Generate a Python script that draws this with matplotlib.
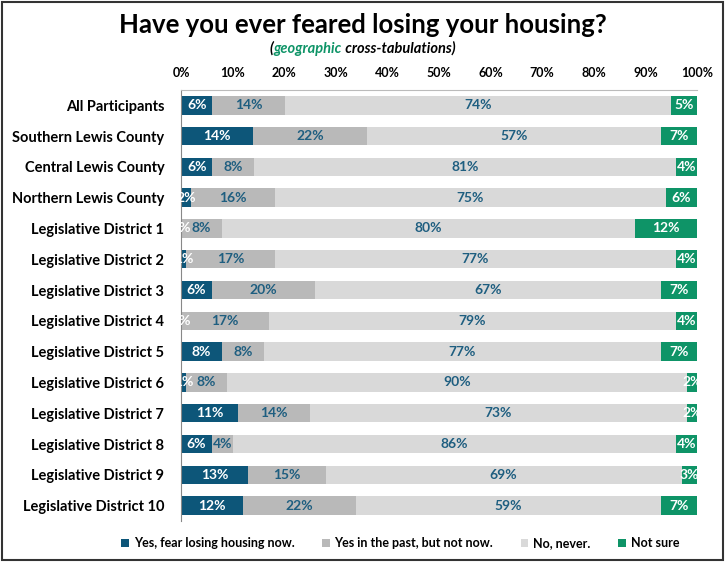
import numpy as np
import matplotlib
matplotlib.use('Agg')
import matplotlib.pyplot as plt
from matplotlib.patches import Rectangle

plt.rcParams['font.family'] = ['Lato', 'DejaVu Sans']

groups = ['All Participants', 'Southern Lewis County', 'Central Lewis County',
          'Northern Lewis County', 'Legislative District 1', 'Legislative District 2',
          'Legislative District 3', 'Legislative District 4', 'Legislative District 5',
          'Legislative District 6', 'Legislative District 7', 'Legislative District 8',
          'Legislative District 9', 'Legislative District 10']
fear_now = [6, 14, 6, 2, 0, 1, 6, 0, 8, 1, 11, 6, 13, 12]
fear_past = [14, 22, 8, 16, 8, 17, 20, 17, 8, 8, 14, 4, 15, 22]
never = [74, 57, 81, 75, 80, 77, 67, 79, 77, 90, 73, 86, 69, 59]
not_sure = [5, 7, 4, 6, 12, 4, 7, 4, 7, 2, 2, 4, 3, 7]
series_names = ['Yes, fear losing housing now.', 'Yes in the past, but not now.',
                'No, never.', 'Not sure']

colors = ['#0D5679', '#B9B9B9', '#D9D9D9', '#0E9467']
text_colors = ['white', '#1E5E80', '#1E5E80', 'white']

data = np.array([fear_now, fear_past, never, not_sure], dtype=float)
shares = data / data.sum(axis=0) * 100

fig = plt.figure(figsize=(7.25, 5.62), dpi=100)
fig.patches.append(Rectangle((0.003, 0.003), 0.994, 0.994, transform=fig.transFigure,
                             fill=False, edgecolor='#333333', linewidth=1.5))
ax = fig.add_axes([0.2497, 0.073, 0.7117, 0.767])

y = np.arange(len(groups))
left = np.zeros(len(groups))
for i in range(4):
    ax.barh(y, shares[i], left=left, height=0.6, color=colors[i],
            label=series_names[i], linewidth=0)
    for j in range(len(groups)):
        ax.text(left[j] + shares[i][j] / 2, y[j], f'{int(data[i][j])}%',
                ha='center', va='center', fontsize=10, fontweight='bold',
                color=text_colors[i])
    left += shares[i]

ax.set_xlim(0, 100)
ax.set_ylim(len(groups) - 0.5, -0.5)
ax.set_yticks(y)
ax.set_yticklabels(groups, fontsize=10.5, fontweight='bold')
ax.set_xticks(np.arange(0, 101, 10))
ax.set_xticklabels([f'{v}%' for v in range(0, 101, 10)], fontsize=9, fontweight='bold')
ax.xaxis.tick_top()
ax.tick_params(axis='both', length=0)
ax.tick_params(axis='x', pad=8)
ax.tick_params(axis='y', pad=12)
for s in ['right', 'bottom']:
    ax.spines[s].set_visible(False)
ax.spines['left'].set_color('#888888')
ax.spines['top'].set_color('#BBBBBB')

fig.text(0.5, 0.955, 'Have you ever feared losing your housing?', ha='center',
         va='center', fontsize=18.5, fontweight='bold')

# subtitle built from three pieces laid side by side
sub_style = dict(va='center', fontsize=10.5, fontweight='bold', style='italic')
pieces = [('(', 'black'), ('geographic', '#0E9467'), (' cross-tabulations)', 'black')]
renderer = fig.canvas.get_renderer()
widths = []
for txt, c in pieces:
    t = fig.text(0, 0, txt, **sub_style)
    widths.append(t.get_window_extent(renderer).width)
    t.remove()
x0 = 0.5 * 725 - sum(widths) / 2
for (txt, c), w in zip(pieces, widths):
    fig.text(x0 / 725, 0.913, txt, ha='left', color=c, **sub_style)
    x0 += w

fig.legend(loc='center', bbox_to_anchor=(0.552, 0.033), ncol=4, frameon=False,
           handlelength=0.6, handleheight=0.6, handletextpad=0.4, columnspacing=2.2,
           prop={'size': 9, 'weight': 'bold'})

fig.savefig('out.png', dpi=100)
